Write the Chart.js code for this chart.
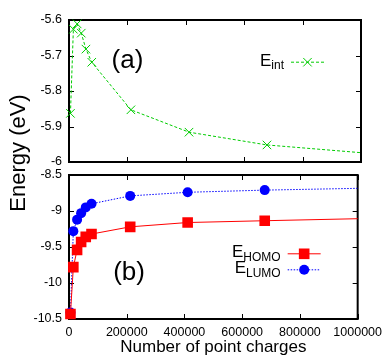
<!DOCTYPE html>
<html>
<head>
<meta charset="utf-8">
<script src="https://cdn.jsdelivr.net/npm/chart.js@4.4.1/dist/chart.umd.min.js"></script>
<style>
  html, body { margin: 0; padding: 0; background: #fff; }
  #wrap { position: relative; width: 388px; height: 358px; }
  canvas { position: absolute; left: 0; top: 0; }
</style>
</head>
<body>
<div id="wrap">
  <canvas id="chartA" width="388" height="358"></canvas>
  <canvas id="chartB" width="388" height="358"></canvas>
</div>
<script>
// number of point charges (last one lies past the axis, only its line shows)
const charges = [5000, 15000, 28000, 42000, 58000, 78000, 212000, 411000, 678000, 1300000];
const eInt  = [-5.863, -5.626, -5.611, -5.637, -5.682, -5.719, -5.853, -5.916, -5.952, -5.994];
const eHomo = [-10.43, -9.78, -9.54, -9.43, -9.36, -9.32, -9.22, -9.16, -9.135, -9.081];
const eLumo = [-10.41, -9.28, -9.12, -9.03, -8.95, -8.90, -8.79, -8.74, -8.71, -8.662];

const xTicks  = [0, 200000, 400000, 600000, 800000, 1000000];
const yTicksA = [-6, -5.9, -5.8, -5.7, -5.6];
const yTicksB = [-10.5, -10, -9.5, -9, -8.5];

const GREEN = '#00cc00', RED = '#ff0000', BLUE = '#0000ff';
const FONT = "'Liberation Sans', Arial, Helvetica, sans-serif";

Chart.defaults.font.family = FONT;
Chart.defaults.color = '#000';

const pts = ys => charges.map((x, i) => ({ x: x, y: ys[i] }));

// inward ticks on all four sides + frame, gnuplot style (drawn under the points)
const frame = {
  id: 'frame',
  beforeDatasetsDraw(chart) {
    const { ctx, chartArea: a, scales: { x, y } } = chart;
    ctx.save();
    ctx.strokeStyle = '#000';
    ctx.lineWidth = 1;
    ctx.beginPath();
    x.ticks.forEach(t => {
      const px = Math.round(x.getPixelForValue(t.value)) + 0.5;
      ctx.moveTo(px, a.top); ctx.lineTo(px, a.top + 5);
      ctx.moveTo(px, a.bottom); ctx.lineTo(px, a.bottom - 5);
    });
    y.ticks.forEach(t => {
      const py = Math.round(y.getPixelForValue(t.value)) + 0.5;
      ctx.moveTo(a.left, py); ctx.lineTo(a.left + 5, py);
      ctx.moveTo(a.right, py); ctx.lineTo(a.right - 5, py);
    });
    ctx.stroke();
    ctx.lineWidth = 2;
    ctx.strokeRect(a.left, a.top, a.right - a.left, a.bottom - a.top);
    ctx.restore();
  }
};

// panel tag, key entries with subscripts, and the shared y title
const extras = {
  id: 'extras',
  afterDraw(chart, args, opts) {
    const { ctx, chartArea: a, scales: { x, y } } = chart;
    ctx.save();
    ctx.fillStyle = '#000';
    ctx.textBaseline = 'middle';
    ctx.textAlign = 'center';
    ctx.font = '26px ' + FONT;
    ctx.fillText(opts.tag.text, x.getPixelForValue(opts.tag.x), y.getPixelForValue(opts.tag.y));

    opts.keys.forEach((k, i) => {
      const ds = chart.data.datasets[i];
      const ky = a.top + k.dy;
      const x1 = a.right - 70, x2 = a.right - 37;
      ctx.strokeStyle = ds.borderColor;
      ctx.lineWidth = 1;
      ctx.setLineDash(ds.borderDash || []);
      ctx.beginPath();
      ctx.moveTo(x1, ky + 0.5); ctx.lineTo(x2, ky + 0.5);
      ctx.stroke();
      ctx.setLineDash([]);
      ctx.fillStyle = ds.pointBackgroundColor;
      Chart.helpers.drawPoint(ctx, {
        pointStyle: ds.pointStyle, radius: ds.pointRadius, rotation: 0,
        borderWidth: ds.pointBorderWidth
      }, (x1 + x2) / 2, ky + 0.5);

      ctx.fillStyle = '#000';
      ctx.textBaseline = 'alphabetic';
      ctx.textAlign = 'left';
      ctx.font = '12px ' + FONT;
      const subW = ctx.measureText(k.sub).width;
      ctx.font = '17px ' + FONT;
      const eW = ctx.measureText('E').width;
      const right = a.right - 77;
      ctx.fillText('E', right - subW - eW, ky + 4);
      ctx.font = '12px ' + FONT;
      ctx.fillText(k.sub, right - subW, ky + 7.5);
    });

    if (opts.yTitle) {
      ctx.translate(19, 153);
      ctx.rotate(-Math.PI / 2);
      ctx.textAlign = 'center';
      ctx.textBaseline = 'middle';
      ctx.font = '22px ' + FONT;
      ctx.fillText(opts.yTitle, 0, 0);
    }
    ctx.restore();
  }
};

function xScale(showLabels) {
  return {
    type: 'linear', min: 0, max: 1000000,
    afterBuildTicks: s => { s.ticks = xTicks.map(v => ({ value: v })); },
    afterFit: s => { s.height = showLabels ? 39 : 0; },
    grid: { display: false, drawTicks: false },
    border: { display: false },
    ticks: { display: showLabels, maxRotation: 0, autoSkip: false, padding: 6,
             font: { size: 12.5 }, callback: v => String(v) },
    title: { display: showLabels, text: 'Number of point charges',
             font: { size: 17 }, padding: { top: 0, bottom: 0 } }
  };
}

function yScale(lo, hi, ticks) {
  return {
    type: 'linear', min: lo, max: hi,
    afterBuildTicks: s => { s.ticks = ticks.map(v => ({ value: v })); },
    afterFit: s => { s.width = 69; },
    grid: { display: false, drawTicks: false },
    border: { display: false },
    ticks: { padding: 7, font: { size: 12.5 }, callback: v => String(v) }
  };
}

const common = {
  responsive: false,
  animation: false,
  events: [],
  plugins: { legend: { display: false }, tooltip: { enabled: false } }
};

// points may sit over the frame, but lines stop at the right edge
const CLIP = { left: 10, top: 10, bottom: 10, right: 0 };

new Chart(document.getElementById('chartA'), {
  type: 'line',
  data: {
    datasets: [{
      data: pts(eInt), clip: CLIP,
      borderColor: GREEN, borderWidth: 1, borderDash: [3, 2],
      pointStyle: 'crossRot', pointRadius: 6, pointBorderWidth: 1,
      pointBorderColor: GREEN, pointBackgroundColor: GREEN, tension: 0
    }]
  },
  options: Object.assign({}, common, {
    layout: { padding: { left: 0, top: 20, right: 27, bottom: 196 } },
    scales: { x: xScale(false), y: yScale(-6, -5.6, yTicksA) },
    plugins: Object.assign({}, common.plugins, {
      extras: {
        tag: { text: '(a)', x: 200000, y: -5.715 },
        keys: [{ sub: 'int', dy: 41.7 }]
      }
    })
  }),
  plugins: [frame, extras]
});

new Chart(document.getElementById('chartB'), {
  type: 'line',
  data: {
    datasets: [{
      data: pts(eHomo), clip: CLIP,
      borderColor: RED, borderWidth: 1,
      pointStyle: 'rect', pointRadius: 7.5, pointBorderWidth: 0,
      pointBackgroundColor: RED, tension: 0
    }, {
      data: pts(eLumo), clip: CLIP,
      borderColor: BLUE, borderWidth: 1, borderDash: [1.5, 1.5],
      pointStyle: 'circle', pointRadius: 5, pointBorderWidth: 0,
      pointBackgroundColor: BLUE, tension: 0
    }]
  },
  options: Object.assign({}, common, {
    layout: { padding: { left: 0, top: 175, right: 27, bottom: 0 } },
    scales: { x: xScale(true), y: yScale(-10.5, -8.5, yTicksB) },
    plugins: Object.assign({}, common.plugins, {
      extras: {
        tag: { text: '(b)', x: 208000, y: -9.86 },
        keys: [{ sub: 'HOMO', dy: 78.3 }, { sub: 'LUMO', dy: 94.3 }],
        yTitle: 'Energy (eV)'
      }
    })
  }),
  plugins: [frame, extras]
});
</script>
</body>
</html>
